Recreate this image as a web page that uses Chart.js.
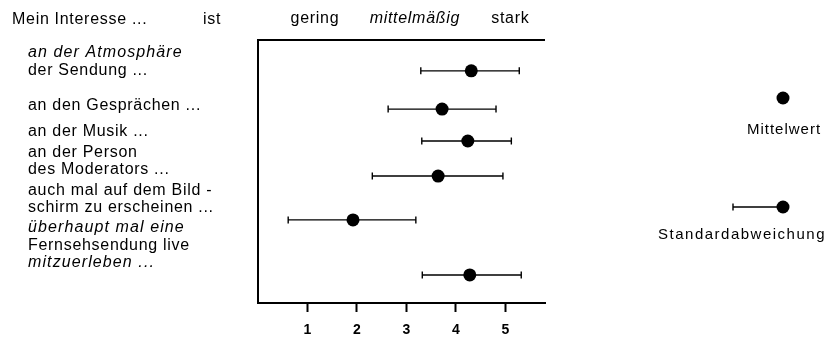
<!DOCTYPE html>
<html><head><meta charset="utf-8">
<script src="https://cdn.jsdelivr.net/npm/chart.js@4/dist/chart.umd.min.js"></script>
<style>html,body{margin:0;padding:0;background:#fff;} #c{display:block;}</style>
</head><body>
<canvas id="c" width="827" height="337"></canvas>
<script>
// ---- data ----
const categories = [
  ['an der Atmosphäre', 'der Sendung ...'],
  ['an den Gesprächen ...'],
  ['an der Musik ...'],
  ['an der Person', 'des Moderators ...'],
  ['auch mal auf dem Bild -', 'schirm zu erscheinen ...'],
  ['überhaupt mal eine', 'Fernsehsendung live', 'mitzuerleben ...']
];
const rowPositions = [0.88, 1.97, 2.88, 3.88, 5.13, 6.70];
const means = [4.31, 3.72, 4.24, 3.64, 1.92, 4.28];
const lowerBounds = [3.29, 2.63, 3.31, 2.31, 0.61, 3.32];
const upperBounds = [5.28, 4.81, 5.12, 4.95, 3.19, 5.32];
const xTickValues = [1, 2, 3, 4, 5];
const scaleLabels = ['gering', 'mittelmäßig', 'stark'];
const scaleLabelValues = [1.15, 3.17, 5.1];
const headerText = ['Mein Interesse ...', 'ist'];
const legendLabels = ['Mittelwert', 'Standardabweichung'];

// ---- layout / style (not data) ----
const FONT = '"Liberation Sans", Arial, sans-serif';
const INK = '#000';
const labelLineY = [[53, 71], [106], [132], [153, 170], [191, 208], [228, 246, 263]];
const labelItalic = [[true, false], [false], [false], [false, false], [false, false], [true, false, true]];

const errorBarPlugin = {
  id: 'errorBars',
  beforeDatasetsDraw(chart) {
    const ctx = chart.ctx, xs = chart.scales.x, ys = chart.scales.y;
    ctx.save();
    ctx.strokeStyle = INK;
    ctx.lineWidth = 1.4;
    means.forEach((m, i) => {
      const y = ys.getPixelForValue(rowPositions[i]);
      const x1 = xs.getPixelForValue(lowerBounds[i]);
      const x2 = xs.getPixelForValue(upperBounds[i]);
      ctx.beginPath();
      ctx.moveTo(x1, y); ctx.lineTo(x2, y);
      ctx.moveTo(x1, y - 3.5); ctx.lineTo(x1, y + 3.5);
      ctx.moveTo(x2, y - 3.5); ctx.lineTo(x2, y + 3.5);
      ctx.stroke();
    });
    ctx.restore();
  }
};

const framePlugin = {
  id: 'frame',
  afterDraw(chart) {
    const ctx = chart.ctx, a = chart.chartArea;
    ctx.save();
    ctx.strokeStyle = INK;
    ctx.lineWidth = 2;
    ctx.beginPath();
    ctx.moveTo(a.right, a.top); ctx.lineTo(a.left, a.top); ctx.lineTo(a.left, a.bottom + 1);
    ctx.stroke();
    ctx.restore();
  }
};

const textPlugin = {
  id: 'texts',
  afterDraw(chart) {
    const ctx = chart.ctx, xs = chart.scales.x;
    ctx.save();
    ctx.fillStyle = INK;
    ctx.textBaseline = 'middle';
    ctx.letterSpacing = '0.7px';
    // header
    ctx.font = '16px ' + FONT;
    ctx.textAlign = 'left';
    ctx.fillText(headerText[0], 12, 20);
    ctx.fillText(headerText[1], 203, 20);
    // scale labels above plot
    ctx.textAlign = 'center';
    scaleLabels.forEach((t, i) => {
      ctx.font = (i === 1 ? 'italic ' : '') + '16px ' + FONT;
      ctx.fillText(t, xs.getPixelForValue(scaleLabelValues[i]), 19);
    });
    // category labels
    ctx.textAlign = 'left';
    categories.forEach((lines, i) => {
      lines.forEach((t, j) => {
        const it = labelItalic[i][j];
        ctx.letterSpacing = it ? '1.1px' : '0.7px';
        ctx.font = (it ? 'italic ' : '') + '16px ' + FONT;
        ctx.fillText(t, 28, labelLineY[i][j]);
      });
    });
    // legend
    ctx.font = '15px ' + FONT;
    ctx.textAlign = 'center';
    ctx.beginPath(); ctx.arc(783, 98, 6.5, 0, Math.PI * 2); ctx.fill();
    ctx.letterSpacing = '1px';
    ctx.fillText(legendLabels[0], 784, 130);
    ctx.beginPath(); ctx.arc(783, 207, 6.5, 0, Math.PI * 2); ctx.fill();
    ctx.strokeStyle = INK; ctx.lineWidth = 1.4;
    ctx.beginPath();
    ctx.moveTo(733, 207); ctx.lineTo(783, 207);
    ctx.moveTo(733, 203.5); ctx.lineTo(733, 210.5);
    ctx.stroke();
    ctx.letterSpacing = '1.5px';
    ctx.fillText(legendLabels[1], 742, 235);
    ctx.restore();
  }
};

new Chart(document.getElementById('c'), {
  type: 'scatter',
  data: {
    datasets: [{
      data: means.map((m, i) => ({ x: m, y: rowPositions[i] })),
      pointRadius: 6.5,
      pointHoverRadius: 6.5,
      backgroundColor: INK,
      borderColor: INK,
      borderWidth: 0
    }]
  },
  options: {
    responsive: false,
    animation: false,
    events: [],
    layout: { padding: { left: 258, right: 282, top: 40, bottom: 0 } },
    plugins: { legend: { display: false }, tooltip: { enabled: false } },
    scales: {
      x: {
        type: 'linear', min: 0, max: 5.8,
        afterBuildTicks: s => { s.ticks = xTickValues.map(v => ({ value: v })); },
        afterFit: s => { s.height = 34; },
        grid: { drawOnChartArea: false, drawTicks: true, tickLength: 9, tickWidth: 2, tickColor: INK },
        border: { display: true, color: INK, width: 2 },
        ticks: { color: INK, font: { family: FONT, size: 14, weight: 'bold' }, padding: 10, maxRotation: 0 }
      },
      y: { type: 'linear', min: 0, max: 7.5, reverse: true, display: false }
    }
  },
  plugins: [errorBarPlugin, framePlugin, textPlugin]
});
</script>
</body></html>
